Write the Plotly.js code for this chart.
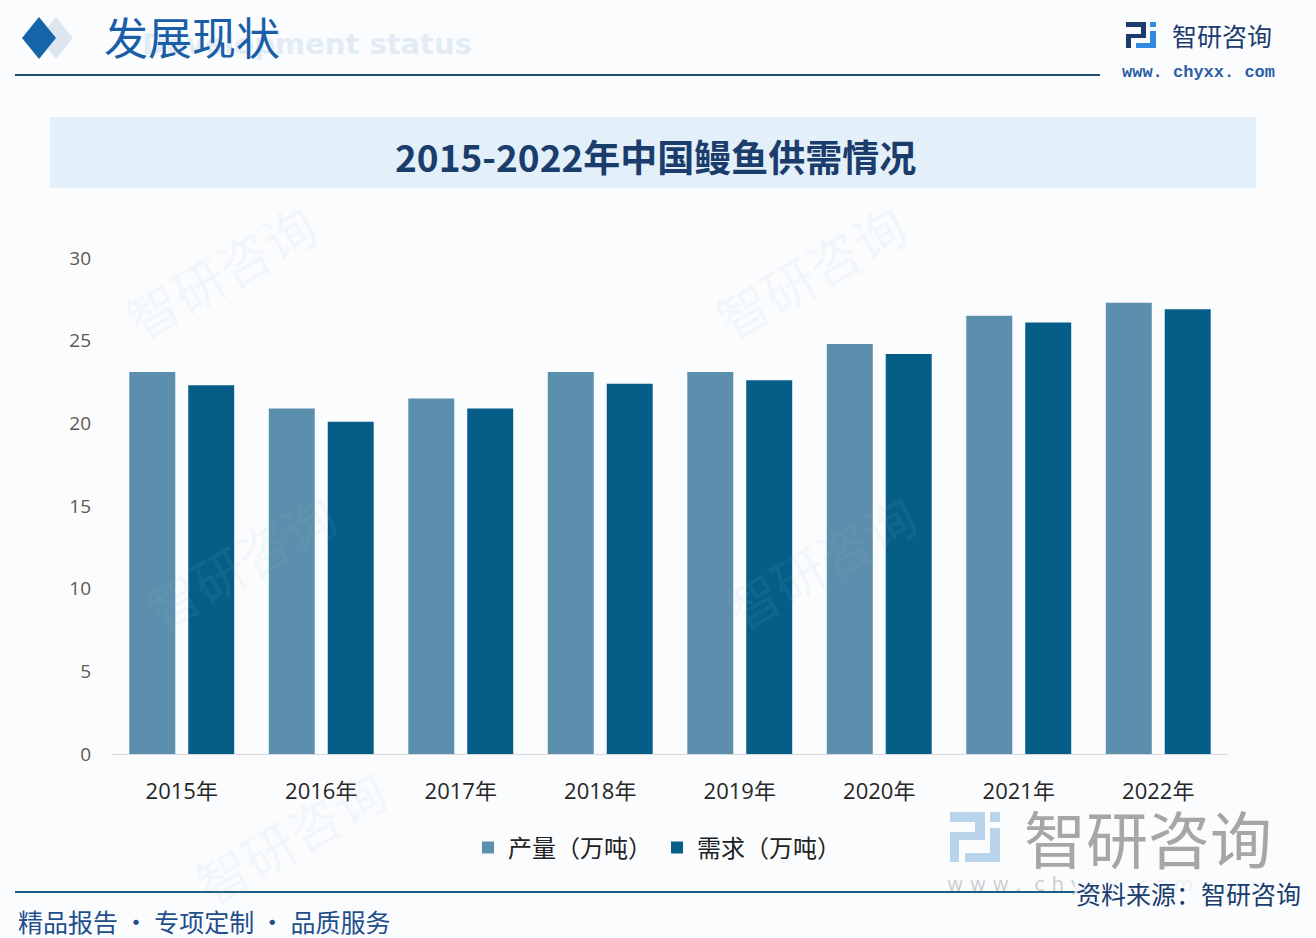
<!DOCTYPE html>
<html>
<head>
<meta charset="utf-8">
<script src="https://cdn.plot.ly/plotly-3.0.1.min.js"></script>
<style>
  html, body { margin: 0; padding: 0; background: #fbfcfe; }
  #chart { width: 1316px; height: 938px; }
</style>
</head>
<body>
<div id="chart"></div>
<script>
// data
const years = ['2015年', '2016年', '2017年', '2018年', '2019年', '2020年', '2021年', '2022年'];
const output = [23.1, 20.9, 21.5, 23.1, 23.1, 24.8, 26.5, 27.3];
const demand = [22.3, 20.1, 20.9, 22.4, 22.6, 24.2, 26.1, 26.9];

const cjk = 'Noto Sans CJK SC, sans-serif';

// pixel -> paper helpers (plot area is 112..1228 x 258..754)
const X = v => (v - 112) / 1116;
const Y = v => (754 - v) / 496;

function diamond(cx, cy, hw, hh) {
  return 'M ' + X(cx - hw) + ',' + Y(cy) + ' L ' + X(cx) + ',' + Y(cy - hh) +
         ' L ' + X(cx + hw) + ',' + Y(cy) + ' L ' + X(cx) + ',' + Y(cy + hh) + ' Z';
}

function box(x0, y0, x1, y1, color) {
  return {type: 'rect', xref: 'paper', yref: 'paper', x0: X(x0), x1: X(x1), y0: Y(y1), y1: Y(y0),
          fillcolor: color, line: {width: 0}, layer: 'below'};
}

const shapes = [
  box(50, 117, 1256, 188, '#e3eff9'),
  {type: 'line', xref: 'paper', yref: 'paper', x0: X(15), x1: X(1100), y0: Y(75), y1: Y(75),
   line: {color: '#1f4f6e', width: 2}},
  {type: 'line', xref: 'paper', yref: 'paper', x0: X(15), x1: X(1100), y0: Y(892), y1: Y(892),
   line: {color: '#1f5b85', width: 2}},
  {type: 'path', xref: 'paper', yref: 'paper', path: diamond(56, 38, 17, 21), fillcolor: '#dde6ef', line: {width: 0}},
  {type: 'path', xref: 'paper', yref: 'paper', path: diamond(39, 38, 17, 21), fillcolor: '#1565a8', line: {width: 0}},
  // top-right logo icon
  box(1126, 22, 1146, 27, '#1d3a6e'),
  box(1141, 22, 1146, 38, '#1d3a6e'),
  box(1126, 34, 1146, 38, '#1d3a6e'),
  box(1126, 34, 1131, 48, '#1d3a6e'),
  box(1150, 22, 1156, 27, '#2f8be0'),
  box(1150, 31, 1156, 48, '#2f8be0'),
  box(1136, 43, 1156, 48, '#2f8be0'),
  // bottom-right logo icon
  box(950, 812, 985, 822, '#b9d3ea'),
  box(975, 812, 985, 838, '#b9d3ea'),
  box(950, 832, 985, 840, '#b9d3ea'),
  box(950, 832, 959, 862, '#b9d3ea'),
  box(990, 812, 1000, 822, '#b9d3ea'),
  box(990, 828, 1000, 862, '#b9d3ea'),
  box(965, 853, 1000, 862, '#b9d3ea')
];

const annotations = [];
function note(text, x, y, size, color, opts) {
  annotations.push(Object.assign({
    text: text, xref: 'paper', yref: 'paper', x: X(x), y: Y(y), showarrow: false,
    xanchor: 'left', yanchor: 'middle', font: {family: cjk, size: size, color: color}
  }, opts || {}));
}

// faint watermarks
const marks = [[220, 270], [810, 270], [240, 560], [820, 560], [290, 835]];
marks.forEach(m => note('智研咨询', m[0], m[1], 52, 'rgba(170,185,205,0.09)', {xanchor: 'center', textangle: -30}));

note('Development status', 474, 44, 29, '#e2ecf5', {xanchor: 'right', font: {family: 'DejaVu Sans, sans-serif', size: 29, color: '#e2ecf5', weight: 'bold'}});
note('发展现状', 102, 36, 44, '#1a5ea8');
note('智研咨询', 1170, 35, 25, '#1d3a6e');
note('www. chyxx. com', 1120, 73, 17, '#2b5ea6', {font: {family: 'Liberation Mono, monospace', size: 17, color: '#2b5ea6', weight: 'bold'}});
note('2015-2022年中国鳗鱼供需情况', 655, 156, 37, '#1b3d6c', {xanchor: 'center', font: {family: cjk, size: 37, color: '#1b3d6c', weight: 'bold'}});
note('智研咨询', 1148, 837, 62, '#a6a6a6', {xanchor: 'center'});
note('w w w .  c h y x x . c o m', 945, 884, 20, 'rgba(150,150,150,0.45)', {font: {family: 'DejaVu Sans', size: 20, color: 'rgba(150,150,150,0.45)'}});
note('资料来源：智研咨询', 1303, 893, 25, '#1a3d6d', {xanchor: 'right', bgcolor: 'rgba(251,252,254,0.75)'});
note('精品报告 · 专项定制 · 品质服务', 16, 921, 25, '#1f4e8c');

Plotly.newPlot('chart', [
  {
    x: years,
    y: output,
    name: '产量（万吨）',
    type: 'bar',
    marker: {color: '#5b8fad'}
  },
  {
    x: years,
    y: demand,
    name: '需求（万吨）',
    type: 'bar',
    marker: {color: '#045e88'}
  }
], {
  width: 1316,
  height: 938,
  margin: {l: 112, r: 88, t: 258, b: 184},
  paper_bgcolor: '#fbfcfe',
  plot_bgcolor: 'rgba(0,0,0,0)',
  barmode: 'group',
  bargap: 0.155,
  bargroupgap: 0.22,
  showlegend: true,
  legend: {
    orientation: 'h',
    x: X(657), xanchor: 'center',
    y: Y(848), yanchor: 'middle',
    font: {family: cjk, size: 24, color: '#222222'},
    itemwidth: 30,
    bgcolor: 'rgba(0,0,0,0)'
  },
  xaxis: {
    tickfont: {family: 'Open Sans, ' + cjk, size: 22, color: '#262626'},
    showline: true,
    linecolor: '#d9d9d9',
    linewidth: 1,
    ticks: '',
    ticklabelstandoff: 18,
    fixedrange: true
  },
  yaxis: {
    range: [0, 30],
    dtick: 5,
    showgrid: false,
    zeroline: false,
    tickfont: {family: 'Open Sans, sans-serif', size: 19, color: '#595959'},
    ticklabelstandoff: 20,
    fixedrange: true
  },
  shapes: shapes,
  annotations: annotations
}, {displayModeBar: false, staticPlot: true});
</script>
</body>
</html>
